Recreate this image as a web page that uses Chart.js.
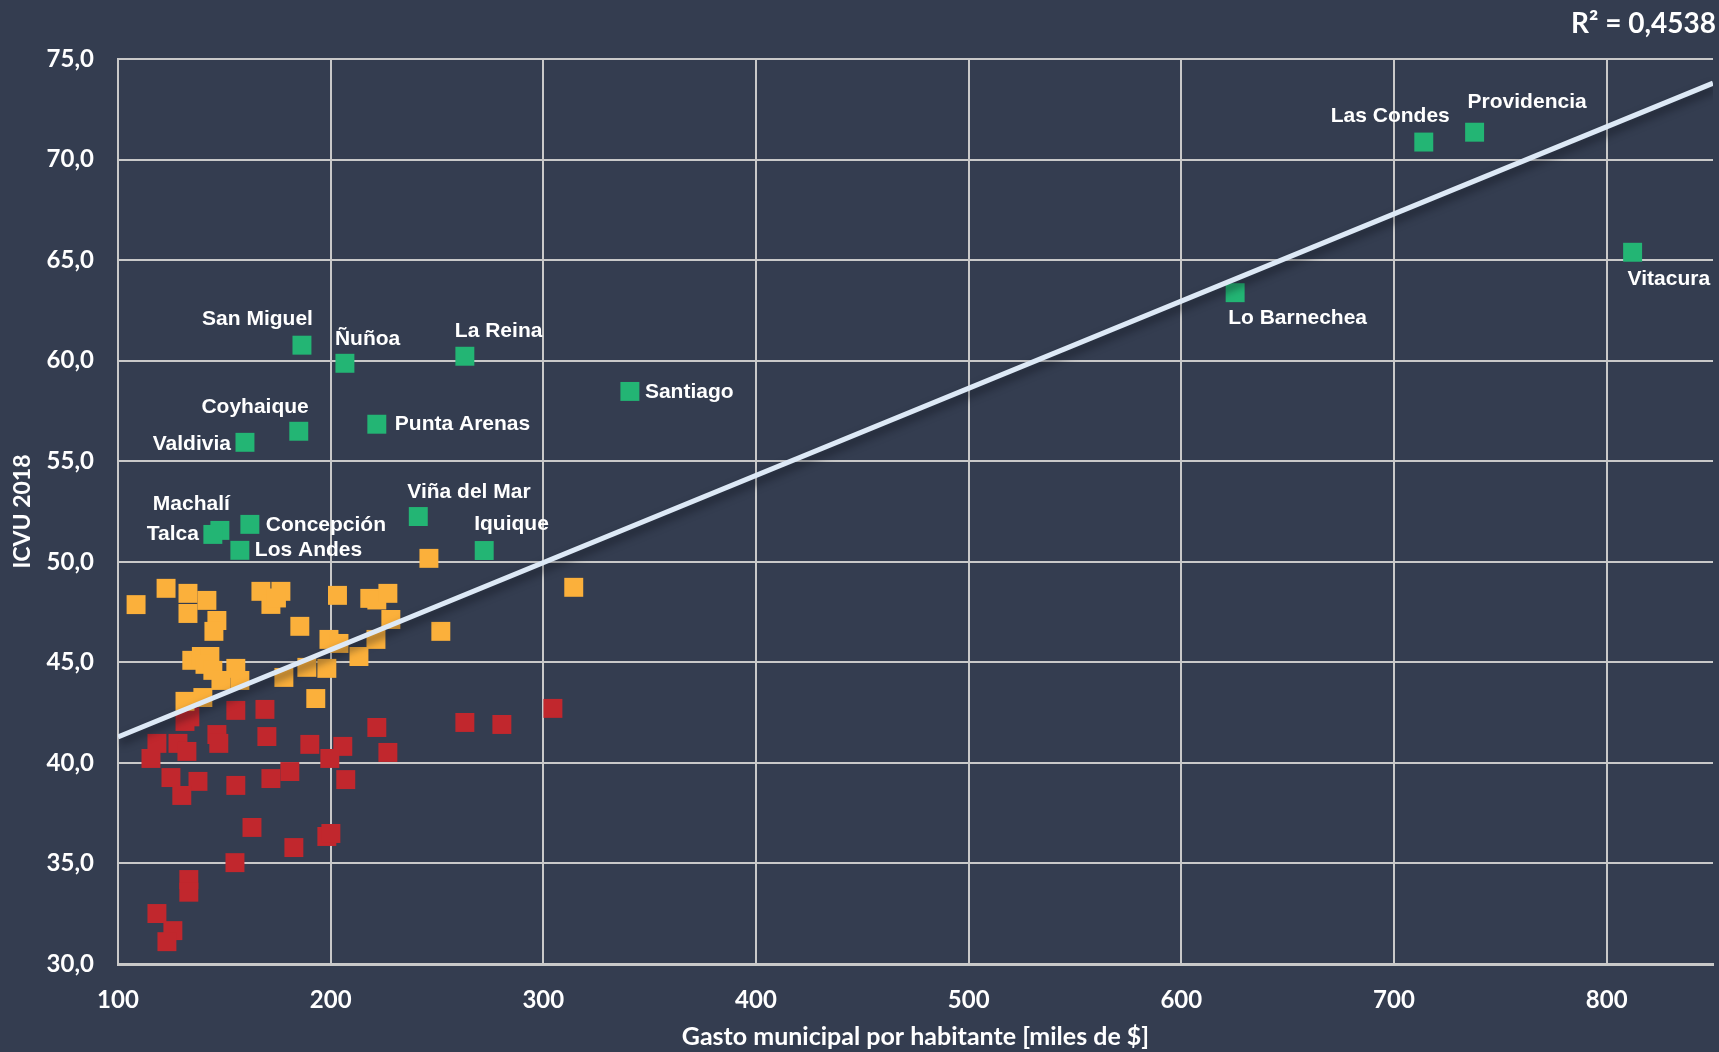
<!DOCTYPE html>
<html lang="es">
<head>
<meta charset="UTF-8">
<title>ICVU 2018 vs gasto municipal</title>
<script src="https://cdn.jsdelivr.net/npm/chart.js@4.4.1/dist/chart.umd.min.js"></script>
<style>
  html, body { margin: 0; padding: 0; background: #343d50; }
  #wrap { width: 1719px; height: 1052px; }
</style>
</head>
<body>
<div id="wrap"><canvas id="chart" width="1719" height="1052"></canvas></div>

<script>
// comunas destacadas (verde)
const greenNames = ['Las Condes', 'Providencia', 'Vitacura', 'Lo Barnechea', 'San Miguel', 'Ñuñoa',
  'La Reina', 'Santiago', 'Coyhaique', 'Punta Arenas', 'Valdivia', 'Viña del Mar',
  'Concepción', 'Machalí', 'Talca', 'Los Andes', 'Iquique'];
const greenX = [714.0, 737.9, 812.2, 625.3, 186.5, 206.7, 263.1, 340.7, 185.0, 221.7, 159.7, 241.2,
  162.0, 147.9, 144.6, 157.3, 272.2];
const greenY = [70.87, 71.36, 65.39, 63.38, 60.77, 59.87, 60.22, 58.47, 56.49, 56.84, 55.94, 52.25,
  51.86, 51.56, 51.36, 50.57, 50.56];

// comunas nivel medio (naranjo)
const orangeX = [108.5, 122.6, 132.9, 141.8, 132.9, 146.5, 145.1, 167.2, 176.6, 171.9, 174.5, 185.5,
  203.2, 218.4, 221.7, 226.9, 228.3, 199.2, 203.9, 221.3, 213.3, 134.7, 139.2, 143.2, 140.9, 144.6,
  155.4, 157.3, 148.4, 178.0, 188.8, 198.2, 193.0, 131.5, 139.9, 246.2, 251.8, 314.3];
const orangeY = [47.87, 48.68, 48.43, 48.08, 47.43, 47.08, 46.54, 48.53, 48.53, 47.88, 48.2, 46.79,
  48.33, 48.18, 48.1, 48.43, 47.13, 46.14, 45.94, 46.14, 45.29, 45.1, 45.29, 45.29, 44.9, 44.6,
  44.7, 44.1, 44.1, 44.25, 44.75, 44.7, 43.2, 43.06, 43.25, 50.17, 46.54, 48.73];

// comunas nivel bajo (rojo)
const redX = [133.8, 131.5, 155.4, 169.1, 118.3, 128.2, 132.4, 115.5, 146.5, 147.4, 170.0, 190.2,
  205.7, 199.6, 221.7, 226.9, 124.9, 137.6, 130.0, 155.4, 171.9, 180.8, 207.1, 163.0, 182.7, 198.2,
  200.1, 155.0, 133.3, 133.3, 118.3, 125.8, 123.0, 304.5, 263.1, 280.5];
const redY = [42.29, 42.06, 42.61, 42.66, 40.97, 40.97, 40.57, 40.22, 41.41, 40.97, 41.31, 40.92,
  40.82, 40.22, 41.76, 40.52, 39.27, 39.08, 38.38, 38.88, 39.22, 39.57, 39.17, 36.79, 35.79, 36.34,
  36.49, 35.04, 34.2, 33.57, 32.51, 31.66, 31.11, 42.71, 42.01, 41.91];

// tendencia lineal
const trendSlope = 0.04335;
const trendIntercept = 36.95;
const trendXRange = [100, 850];
const r2Text = 'R² = 0,4538';

const xTicks = [100, 200, 300, 400, 500, 600, 700, 800];

// label placement: [align, dx, dy] in px
const labelPlacement = {
  'Las Condes': ['right', 26, -26], 'Providencia': ['left', -7, -30], 'Vitacura': ['left', -5, 27],
  'Lo Barnechea': ['left', -7, 26], 'San Miguel': ['right', 11, -26], 'Ñuñoa': ['left', -10, -24],
  'La Reina': ['left', -10, -25], 'Santiago': ['left', 15, 1], 'Coyhaique': ['right', 10, -24],
  'Punta Arenas': ['left', 18, 0], 'Valdivia': ['right', -14, 2], 'Viña del Mar': ['left', -11, -24],
  'Concepción': ['left', 16, 1], 'Machalí': ['right', 10, -26], 'Talca': ['right', -14, 0],
  'Los Andes': ['left', 15, 0], 'Iquique': ['left', -10, -26]
};

function toPoints(xs, ys) {
  return xs.map((x, i) => ({ x: x, y: ys[i] }));
}

const trendData = trendXRange.map(x => ({ x: x, y: trendIntercept + trendSlope * x }));

const tickFont = { family: 'Lato', weight: 'bold', size: 24 };
const gridColor = '#c9c9c9';

const lineShadow = {
  id: 'lineShadow',
  beforeDatasetDraw(chart, args) {
    if (args.index !== 0) return;
    const ctx = chart.ctx;
    ctx.save();
    ctx.shadowColor = 'rgba(10,14,22,0.6)';
    ctx.shadowBlur = 8;
    ctx.shadowOffsetX = 2;
    ctx.shadowOffsetY = 5;
  },
  afterDatasetDraw(chart, args) {
    if (args.index !== 0) return;
    chart.ctx.restore();
  }
};

const pointLabels = {
  id: 'pointLabels',
  afterDatasetsDraw(chart) {
    const ctx = chart.ctx;
    const meta = chart.getDatasetMeta(1);
    ctx.save();
    ctx.font = 'bold 21px "Liberation Sans", Arial, sans-serif';
    ctx.fillStyle = '#ffffff';
    ctx.textBaseline = 'middle';
    meta.data.forEach((pt, i) => {
      const name = greenNames[i];
      const p = labelPlacement[name] || ['left', 15, 0];
      ctx.textAlign = p[0];
      ctx.fillText(name, pt.x + p[1], pt.y + p[2]);
    });
    // R2
    ctx.font = 'bold 28px Lato, sans-serif';
    ctx.textAlign = 'right';
    ctx.fillText(r2Text, chart.width - 3, 24);
    ctx.restore();
  }
};

const ctx = document.getElementById('chart').getContext('2d');
new Chart(ctx, {
  type: 'scatter',
  data: {
    datasets: [
      {
        type: 'line',
        label: 'Tendencia',
        data: trendData,
        borderColor: '#dde9f6',
        borderWidth: 5,
        pointRadius: 0,
        fill: false,
        order: 0
      },
      {
        label: 'Verde',
        data: toPoints(greenX, greenY),
        backgroundColor: '#23b574',
        pointStyle: 'rect',
        pointRadius: 13.4,
        pointBorderWidth: 0,
        order: 1
      },
      {
        label: 'Naranjo',
        data: toPoints(orangeX, orangeY),
        backgroundColor: '#fbb03b',
        pointStyle: 'rect',
        pointRadius: 13.4,
        pointBorderWidth: 0,
        order: 2
      },
      {
        label: 'Rojo',
        data: toPoints(redX, redY),
        backgroundColor: '#c1272d',
        pointStyle: 'rect',
        pointRadius: 13.4,
        pointBorderWidth: 0,
        order: 3
      }
    ]
  },
  options: {
    responsive: false,
    animation: false,
    events: [],
    layout: { autoPadding: false, padding: { top: 59, right: 6, left: 0, bottom: 0 } },
    plugins: {
      legend: { display: false },
      tooltip: { enabled: false }
    },
    scales: {
      x: {
        type: 'linear',
        min: 100,
        max: 850,
        afterBuildTicks: s => { s.ticks = xTicks.map(v => ({ value: v })); },
        afterFit: s => { s.height = 88; s.paddingRight = 0; },
        grid: { color: gridColor, lineWidth: 2, drawTicks: false },
        border: { color: gridColor, width: 3 },
        ticks: { color: '#ffffff', font: tickFont, padding: 22, maxRotation: 0 },
        title: {
          display: true,
          text: 'Gasto municipal por habitante [miles de $]',
          color: '#ffffff',
          font: { family: 'Lato', weight: 'bold', size: 25 },
          padding: { top: 0, bottom: 0 }
        }
      },
      y: {
        min: 30,
        max: 75,
        afterFit: s => { s.width = 118; },
        grid: { color: gridColor, lineWidth: 2, drawTicks: false },
        border: { color: gridColor, width: 2 },
        ticks: {
          stepSize: 5,
          color: '#ffffff',
          font: tickFont,
          padding: 24,
          callback: v => v.toFixed(1).replace('.', ',')
        },
        title: {
          display: true,
          text: 'ICVU 2018',
          color: '#ffffff',
          font: { family: 'Lato', weight: 'bold', size: 23 },
          padding: { top: 9, bottom: 0 }
        }
      }
    }
  },
  plugins: [lineShadow, pointLabels]
});
</script>
</body>
</html>
